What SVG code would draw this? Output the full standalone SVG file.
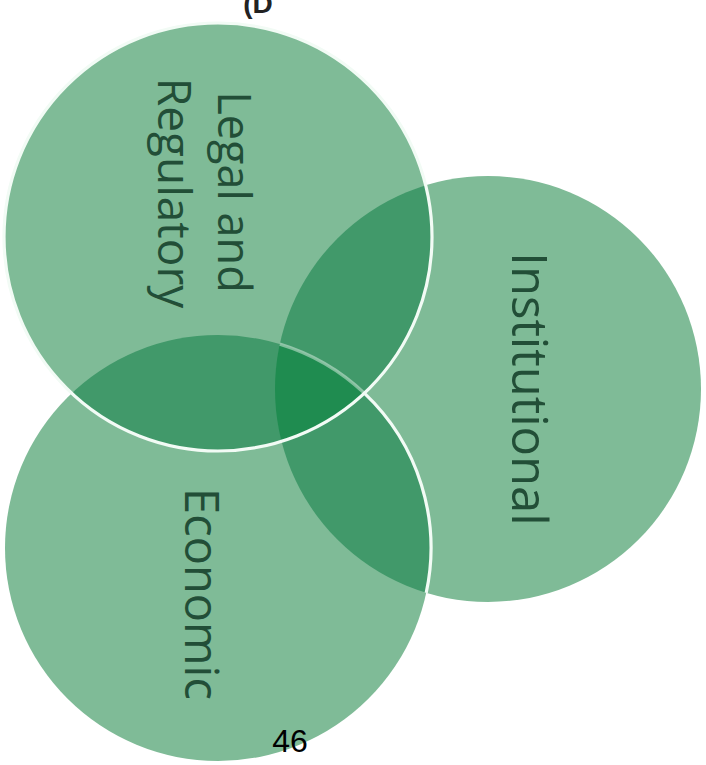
<svg xmlns="http://www.w3.org/2000/svg" width="706" height="765" viewBox="0 0 706 765">
<style>
.base{fill:#7fbb97}
.dbl{fill:#41996a}
.tri{fill:#1f8c50}
.lbl{font-family:"Open Sans","DejaVu Sans",sans-serif;fill:#224e37;text-anchor:middle}
.edge{fill:none;stroke:#f2fbf5;stroke-width:3.2}
</style>
<defs>
<clipPath id="cL"><circle cx="218" cy="237" r="214"/></clipPath>
<clipPath id="cI"><circle cx="488" cy="389" r="213"/></clipPath>
<clipPath id="cE"><circle cx="218" cy="548" r="213"/></clipPath>
</defs>
<rect width="706" height="765" fill="#ffffff"/>
<text x="258" y="13" font-family="Liberation Sans, sans-serif" font-weight="bold" font-size="28" fill="#222" text-anchor="middle">(D</text>
<g id="institutional"><circle class="base" cx="488" cy="389" r="213"/></g>
<g id="economic"><circle class="base" cx="218" cy="548" r="213"/></g>
<g id="legal"><circle class="base" cx="218" cy="237" r="214"/></g>
<g id="overlaps">
<circle class="dbl" cx="488" cy="389" r="213" clip-path="url(#cL)"/>
<circle class="dbl" cx="218" cy="548" r="213" clip-path="url(#cL)"/>
<circle class="dbl" cx="488" cy="389" r="213" clip-path="url(#cE)"/>
<g clip-path="url(#cL)"><circle class="tri" cx="218" cy="548" r="213" clip-path="url(#cI)"/></g>
</g>
<g id="connectors">
<path class="edge" d="M279.8 344.1 A213 213 0 0 1 364.3 393.2" opacity="0.45"/>
<path class="edge" d="M364.3 393.2 A213 213 0 0 1 426.2 592.9"/>
<circle class="edge" cx="218" cy="237" r="214"/>
</g>
<g id="labels">
<text class="lbl" font-size="45" transform="translate(218,192) rotate(90)">Legal and</text>
<text class="lbl" font-size="46" transform="translate(158,193) rotate(90)">Regulatory</text>
<text class="lbl" font-size="49" transform="translate(512,389) rotate(90)">Institutional</text>
<text class="lbl" font-size="47" transform="translate(185,594) rotate(90)">Economic</text>
</g>
<text x="290" y="752" font-family="Liberation Sans, Arial, sans-serif" font-size="32" fill="#000" text-anchor="middle">46</text>
</svg>
